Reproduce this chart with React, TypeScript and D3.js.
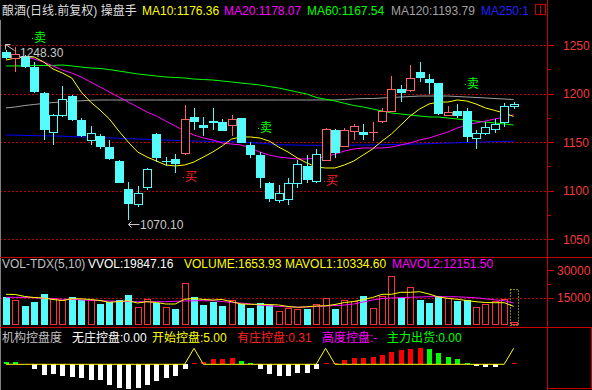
import React from "react";
import * as d3 from "d3";

// ---------------- DATA ----------------
const opens = [
  1242.8, 1235.9, 1238.7, 1227.6, 1200.8, 1159.0, 1176.8, 1197.4, 1172.7, 1151.3,
  1156.2, 1145.2, 1130.4, 1101.5, 1085.1, 1102.3, 1158.2, 1130.4, 1132.5, 1137.3,
  1176.1, 1167.5, 1171.6, 1170.3, 1166.8, 1174.4, 1146.9, 1136.6, 1108.0, 1089.5,
  1090.2, 1106.4, 1125.6, 1109.1, 1130.7, 1162.4, 1145.2, 1160.6, 1160.6, 1159.5,
  1171.0, 1181.2, 1204.6, 1202.9, 1221.9, 1214.9, 1210.5, 1177.1, 1182.0, 1182.0,
  1153.1, 1158.2, 1162.4, 1169.9, 1186.4,
];
const highs = [
  1244.5, 1248.3, 1240.0, 1232.8, 1201.5, 1178.5, 1207.7, 1198.0, 1174.5, 1166.5,
  1158.0, 1152.1, 1131.0, 1109.1, 1104.6, 1123.0, 1159.0, 1135.0, 1137.6, 1188.1,
  1184.7, 1176.1, 1184.7, 1174.0, 1177.8, 1175.0, 1150.3, 1140.0, 1109.0, 1105.7,
  1112.6, 1131.0, 1136.6, 1142.5, 1164.1, 1163.0, 1164.1, 1168.3, 1168.3, 1170.3,
  1184.7, 1218.0, 1208.8, 1229.4, 1232.2, 1219.9, 1211.0, 1187.1, 1188.9, 1184.7,
  1162.4, 1171.0, 1173.4, 1189.9, 1190.9,
];
const lows = [
  1235.5, 1222.5, 1226.0, 1200.8, 1152.0, 1147.0, 1175.8, 1172.0, 1155.5, 1147.0,
  1143.0, 1131.4, 1107.5, 1070.1, 1083.3, 1101.0, 1129.7, 1125.0, 1117.7, 1136.5,
  1162.4, 1156.2, 1162.4, 1161.0, 1156.5, 1149.0, 1133.5, 1102.9, 1088.0, 1086.8,
  1085.1, 1102.3, 1107.5, 1108.0, 1130.0, 1133.2, 1144.5, 1152.0, 1152.0, 1151.0,
  1170.0, 1180.5, 1191.5, 1202.0, 1212.2, 1199.2, 1178.0, 1176.5, 1174.4, 1150.3,
  1142.5, 1157.0, 1159.0, 1165.8, 1184.0,
];
const closes = [
  1236.6, 1240.7, 1227.6, 1201.9, 1162.4, 1177.8, 1194.3, 1172.7, 1156.2, 1159.0,
  1145.2, 1132.2, 1108.0, 1086.1, 1097.1, 1122.2, 1133.2, 1130.6, 1127.3, 1173.7,
  1171.0, 1164.7, 1169.9, 1161.6, 1173.7, 1149.3, 1136.6, 1113.2, 1091.2, 1097.1,
  1107.4, 1127.0, 1110.8, 1137.3, 1163.1, 1139.0, 1162.4, 1166.5, 1157.2, 1160.2,
  1182.0, 1204.3, 1200.8, 1215.7, 1216.3, 1211.1, 1178.6, 1180.6, 1177.1, 1155.5,
  1159.6, 1165.2, 1168.3, 1187.1, 1189.2,
];
// 操盘手 trend state (1 = strong / red rising candle)
const strong = [
  0, 1, 0, 0, 0, 0, 0, 0, 0, 0,
  0, 0, 0, 0, 0, 0, 0, 0, 0, 1,
  0, 0, 0, 0, 1, 0, 0, 0, 0, 0,
  0, 0, 0, 0, 1, 0, 1, 1, 0, 1,
  1, 1, 0, 1, 0, 0, 0, 1, 0, 0,
  0, 0, 0, 0, 0,
];
const ma10 = [
  1234.5, 1236.6, 1237.6, 1237.6, 1232.5, 1225.3, 1221.1, 1216.0, 1201.5, 1191.2,
  1183.0, 1173.7, 1161.3, 1150.0, 1139.7, 1134.5, 1130.4, 1126.3, 1125.3, 1126.3,
  1129.4, 1134.5, 1139.7, 1145.9, 1153.1, 1155.2, 1155.2, 1154.1, 1151.0, 1144.8,
  1139.7, 1133.5, 1128.4, 1124.2, 1123.2, 1123.2, 1126.3, 1130.4, 1136.6, 1142.8,
  1151.0, 1158.2, 1167.5, 1176.8, 1184.0, 1189.2, 1191.2, 1191.2, 1193.3, 1192.3,
  1189.2, 1185.1, 1182.5, 1179.9, 1176.36,
];
const ma20 = [
  1239.7, 1238.7, 1237.6, 1235.6, 1232.5, 1228.4, 1224.2, 1221.1, 1217.0, 1211.9,
  1206.7, 1201.5, 1196.4, 1191.2, 1186.1, 1180.9, 1176.8, 1171.6, 1166.5, 1161.3,
  1157.2, 1154.1, 1152.1, 1149.0, 1147.9, 1146.9, 1143.8, 1139.7, 1136.6, 1134.5,
  1133.5, 1132.5, 1132.5, 1133.5, 1134.5, 1137.6, 1140.7, 1142.8, 1143.8, 1143.8,
  1143.8, 1144.8, 1146.9, 1149.0, 1152.1, 1154.1, 1157.2, 1160.3, 1164.4, 1167.5,
  1169.6, 1171.6, 1173.7, 1175.8, 1178.07,
];
const ma60 = [
  1228.4, 1228.4, 1228.4, 1228.9, 1228.9, 1228.9, 1229.4, 1228.4, 1227.3, 1226.3,
  1225.8, 1224.7, 1223.2, 1221.7, 1220.1, 1219.1, 1218.0, 1217.0, 1216.5, 1216.0,
  1214.9, 1214.4, 1213.9, 1212.9, 1211.9, 1210.8, 1209.8, 1208.8, 1207.2, 1205.7,
  1203.6, 1201.5, 1199.5, 1195.9, 1194.1, 1192.3, 1189.9, 1187.6, 1186.1, 1184.0,
  1182.0, 1179.9, 1178.9, 1177.8, 1176.8, 1175.8, 1175.8, 1174.7, 1173.7, 1172.7,
  1171.6, 1170.6, 1169.6, 1168.6, 1167.54,
];
const ma120 = [
  1185.1, 1186.1, 1187.6, 1188.7, 1189.7, 1190.7, 1191.4, 1192.0, 1192.5, 1193.0,
  1193.3, 1193.3, 1193.3, 1193.3, 1193.3, 1193.3, 1193.3, 1193.3, 1193.3, 1193.3,
  1193.3, 1193.3, 1193.3, 1193.3, 1193.3, 1193.3, 1193.3, 1193.3, 1193.3, 1193.3,
  1193.3, 1193.3, 1193.3, 1193.3, 1193.3, 1193.3, 1193.8, 1194.3, 1194.8, 1194.8,
  1195.4, 1195.9, 1196.4, 1196.9, 1197.4, 1197.4, 1197.4, 1197.4, 1196.9, 1196.4,
  1195.9, 1195.4, 1194.8, 1194.3, 1193.79,
];
const ma250 = [
  1157.2, 1157.0, 1156.8, 1156.6, 1156.4, 1156.2, 1156.0, 1155.6, 1155.2, 1154.9,
  1154.6, 1154.2, 1153.8, 1153.4, 1153.1, 1152.7, 1152.4, 1152.0, 1151.7, 1151.3,
  1151.0, 1150.8, 1150.6, 1150.4, 1150.2, 1150.0, 1149.4, 1148.8, 1148.0, 1147.2,
  1147.0, 1146.8, 1146.7, 1146.6, 1146.6, 1146.6, 1146.7, 1146.8, 1146.9, 1147.0,
  1147.2, 1147.4, 1147.6, 1147.8, 1148.0, 1148.3, 1148.6, 1148.9, 1149.2, 1149.5,
  1149.8, 1150.1, 1150.3, 1150.6, 1150.8,
];
const volumes = [
  15160, 13900, 10290, 12450, 17150, 14800, 13900, 15160, 13540, 13900,
  11730, 12450, 13900, 16600, 9930, 14440, 12270, 9750, 9030, 22900,
  15160, 11190, 12450, 10290, 13540, 11730, 9390, 12090, 11190, 7940,
  9390, 9030, 8840, 11550, 14800, 9030, 13900, 13000, 16060, 9390,
  16060, 26900, 14800, 20760, 13900, 12090, 15700, 14800, 13000, 13540,
  9930, 11550, 13000, 14260, 1653.93,
];
const mavol1 = [
  16840, 16730, 15650, 15110, 14840, 14020, 13480, 14400, 14400, 14020,
  13480, 12510, 12940, 13320, 12130, 12830, 12400, 11590, 11590, 14130,
  14570, 14020, 13750, 14020, 12830, 11590, 11430, 11430, 11320, 11050,
  10240, 9800, 10070, 10510, 10610, 11320, 12400, 12940, 14020, 15110,
  16840, 16840, 17920, 17920, 18250, 17000, 15380, 14670, 14130, 13480,
  12830, 12400, 12290, 12290, 10334.6,
];
const mavol2 = [
  15220, 15220, 15110, 14950, 14670, 14400, 14190, 14130, 13860, 13590,
  13380, 13210, 13050, 12940, 12830, 12830, 12830, 12830, 13050, 13210,
  13320, 13380, 13380, 12940, 12400, 12130, 11590, 11050, 10610, 10240,
  10070, 9860, 9960, 10240, 10510, 10780, 11050, 11590, 12670, 13750,
  14570, 14840, 15000, 15220, 15380, 15540, 15540, 15540, 15490, 15220,
  14950, 14400, 13860, 13380, 12151.5,
];
const vvol = 19847.16;

// 机构控盘度
const wuzhuang = [
  0, 0, 0, -1.45, -3.35, -3.1, -3.55, -3.85, -4.4, -4.9,
  -4.9, -6.45, -7.3, -7.7, -7.3, -6.55, -5.2, -4.15, -3.55, -1.45,
  0, 0, 0, 0, 0, 0, 0, -1.45, -3.1, -3.55,
  -3.55, -2.7, -2.6, -1.55, 0, 0, 0, 0, 0, 0,
  0, 0, 0, 0, 0, 0, 0, 0, 0, 0,
  -0.4, -0.7, -0.7, 0, 0,
];
const kaishi = [
  0, 0, 0, 0, 0, 0, 0, 0, 0, 0,
  0, 0, 0, 0, 0, 0, 0, 0, 0, 0,
  5, 0, 0, 0, 0, 0, 0, 0, 0, 0,
  0, 0, 0, 0, 5, 0, 0, 0, 0, 0,
  0, 0, 0, 0, 0, 0, 0, 0, 0, 0,
  0, 0, 0, 0, 5,
];
const youzhuang = [
  0, 0, 0, 0, 0, 0, 0, 0, 0, 0,
  0, 0, 0, 0, 0, 0, 0, 0, 0, 0,
  0.3, 0.85, 1.55, 1.55, 1.9, 0, 0, 0, 0, 0,
  0, 0, 0, 0, 0.3, 0.55, 1.35, 2.1, 2.1, 2.4,
  2.9, 4.0, 4.5, 4.8, 5.2, 0, 0, 0, 0, 0,
  0, 0, 0, 0, 0.31,
];
const chuhuo = [
  0.85, 0.85, 0, 0, 0, 0, 0, 0, 0, 0,
  0, 0, 0, 0, 0, 0, 0, 0, 0, 0,
  0, 0, 0, 0, 0, 1.15, 0.55, 0, 0, 0,
  0, 0, 0, 0, 0, 0, 0, 0, 0, 0,
  0, 0, 0, 0, 0, 4.8, 3.65, 2.4, 1.8, 0.4,
  0, 0, 0, 0, 0,
];

const sellIdx = [3, 27, 49];
const sellPrice = [1257.7, 1164.4, 1209.3];
const buyIdx = [19, 34];
const buyPrice = [1114.4, 1109.3];

const priceTicks = [1050, 1100, 1150, 1200, 1250];
const priceMinor = [1075, 1125, 1175, 1225];
const volTicks = [15000, 30000];
const volMinor = [22500];

// ---------------- STYLE ----------------
const FONT = "'Liberation Sans','Noto Sans CJK SC',sans-serif";
const CYAN = "#54fcfc";
const UPRED = "#ff6464";
const VRED = "#ff3232";
const FRAME = "#c80000";
const GRID = "#c00000";
const TICKTXT = "#f03c3c";

export default function App() {
  const N = closes.length;
  const x = d3.scaleLinear().domain([0, N - 1]).range([6, 513.6]);
  const yP = d3.scaleLinear().domain([1050, 1250]).range([239, 45]);
  const yV = d3.scaleLinear().domain([0, 30000]).range([325.4, 270]);
  const yI = d3.scaleLinear().domain([0, 5]).range([364.3, 348.3]);
  const cxs = closes.map((_, i) => Math.round(x(i)));

  const pLine = d3.line<number>().x((_, i) => x(i)).y((d) => yP(d));
  const vLine = d3.line<number>().x((_, i) => x(i)).y((d) => yV(d));
  const iLine = d3.line<number>().x((_, i) => x(i)).y((d) => yI(d));

  const last = N - 1;
  const hiIdx = d3.maxIndex(highs);
  const loIdx = d3.minIndex(lows);
  const i0 = Math.round(yI(0));

  const txt = (s: string, xx: number, yy: number, fill: string, extra: any = {}) => (
    <text x={xx} y={yy} fill={fill} fontSize={12} fontFamily={FONT} {...extra}>
      {s}
    </text>
  );

  return (
    <svg
      width={592}
      height={390}
      style={{ position: "absolute", left: 0, top: 0, display: "block", background: "#000" }}
    >
      <defs>
        <clipPath id="mainClip">
          <rect x={0} y={20} width={547} height={237} />
        </clipPath>
        <clipPath id="titleClip">
          <rect x={0} y={0} width={528} height={20} />
        </clipPath>
      </defs>
      <rect x={0} y={0} width={592} height={390} fill="#000" />

      {/* grid */}
      {priceTicks.map((t) => (
        <line key={"g" + t} x1={0} x2={546} y1={Math.round(yP(t)) + 0.5} y2={Math.round(yP(t)) + 0.5}
          stroke={GRID} strokeDasharray="2,2" />
      ))}
      <line x1={0} x2={546} y1={Math.round(yV(15000)) + 0.5} y2={Math.round(yV(15000)) + 0.5}
        stroke={GRID} strokeDasharray="2,2" />

      {/* frames */}
      <line x1={0.5} x2={0.5} y1={20} y2={390} stroke="#808080" />
      <line x1={547.5} x2={547.5} y1={0} y2={390} stroke={FRAME} />
      <line x1={0} x2={592} y1={257.5} y2={257.5} stroke={FRAME} />
      <line x1={0} x2={592} y1={327.5} y2={327.5} stroke={FRAME} />
      <rect x={547.5} y={327.5} width={44} height={61} fill="none" stroke={FRAME} />

      {/* axis ticks */}
      {priceTicks.map((t) => (
        <g key={"pt" + t}>
          <line x1={548} x2={554} y1={Math.round(yP(t)) + 0.5} y2={Math.round(yP(t)) + 0.5} stroke={FRAME} />
          {txt(String(t), 563, yP(t) + 4.5, TICKTXT)}
        </g>
      ))}
      {priceMinor.map((t) => (
        <line key={"pm" + t} x1={548} x2={551} y1={Math.round(yP(t)) + 0.5} y2={Math.round(yP(t)) + 0.5} stroke={FRAME} />
      ))}
      {volTicks.map((t) => (
        <g key={"vt" + t}>
          <line x1={548} x2={554} y1={Math.round(yV(t)) + 0.5} y2={Math.round(yV(t)) + 0.5} stroke={FRAME} />
          {txt(String(t), 557, yV(t) + 4.5, TICKTXT)}
        </g>
      ))}
      {volMinor.map((t) => (
        <line key={"vm" + t} x1={548} x2={551} y1={Math.round(yV(t)) + 0.5} y2={Math.round(yV(t)) + 0.5} stroke={FRAME} />
      ))}

      {/* main panel */}
      <g clipPath="url(#mainClip)" fill="none" strokeWidth={1}>
        <path d={pLine(ma250) || ""} stroke="#0000ff" />
        <path d={pLine(ma120) || ""} stroke="#a0a0a0" />
        <path d={pLine(ma60) || ""} stroke="#00ff00" />
        <path d={pLine(ma20) || ""} stroke="#ff00ff" />
        <path d={pLine(ma10) || ""} stroke="#ffff00" />
      </g>
      <g clipPath="url(#mainClip)">
        {closes.map((c, i) => {
          const o = opens[i];
          const up = c >= o;
          const col = up && strong[i] ? UPRED : CYAN;
          const cx = cxs[i];
          const wx = cx + 0.5;
          const top = Math.round(yP(Math.max(o, c)));
          const bot = Math.round(yP(Math.min(o, c)));
          const yh = Math.round(yP(highs[i]));
          const yl = Math.round(yP(lows[i]));
          if (bot - top < 2) {
            return (
              <g key={i}>
                <line x1={wx} x2={wx} y1={yh} y2={yl} stroke={col} />
                <line x1={cx - 4} x2={cx + 5} y1={top + 0.5} y2={top + 0.5} stroke={col} />
              </g>
            );
          }
          if (up) {
            return (
              <g key={i}>
                <line x1={wx} x2={wx} y1={yh} y2={top} stroke={col} />
                <line x1={wx} x2={wx} y1={bot} y2={yl} stroke={col} />
                <rect x={cx - 3.5} y={top + 0.5} width={8} height={bot - top - 1} fill="#000" stroke={col} />
              </g>
            );
          }
          return (
            <g key={i}>
              <line x1={wx} x2={wx} y1={yh} y2={yl} stroke={col} />
              <rect x={cx - 4} y={top} width={9} height={bot - top} fill={col} />
            </g>
          );
        })}
      </g>

      {/* high / low markers */}
      <g stroke="#c8c8c8" fill="none">
        <path d={`M${cxs[hiIdx] - 9.5},${Math.round(yP(highs[hiIdx])) - 2.5} v5 M${cxs[hiIdx] - 9.5},${Math.round(yP(highs[hiIdx])) - 2.5} h5 M${cxs[hiIdx] - 9.5},${Math.round(yP(highs[hiIdx])) - 2.5} l9,6`} />
        <path d={`M${cxs[loIdx] + 0.5},${Math.round(yP(lows[loIdx])) + 4.5} h11 M${cxs[loIdx] + 0.5},${Math.round(yP(lows[loIdx])) + 4.5} l3,-3 M${cxs[loIdx] + 0.5},${Math.round(yP(lows[loIdx])) + 4.5} l3,3`} />
      </g>
      {txt(highs[hiIdx].toFixed(2), cxs[hiIdx] + 5, yP(highs[hiIdx]) + 10, "#c8c8c8")}
      {txt(lows[loIdx].toFixed(2), cxs[loIdx] + 12, yP(lows[loIdx]) + 9, "#c8c8c8")}

      {/* signals */}
      {sellIdx.map((si, k) => (
        <g key={"s" + k}>
          <rect x={cxs[si] - 2} y={Math.round(yP(sellPrice[k]))} width={1} height={1} fill="#00ff00" />
          <text x={cxs[si] + 6} y={yP(sellPrice[k])} fill="#00ff00" fontSize={12} fontFamily={FONT}
            textAnchor="middle" dominantBaseline="central">卖</text>
        </g>
      ))}
      {buyIdx.map((bi, k) => (
        <g key={"b" + k}>
          <rect x={cxs[bi] - 2} y={Math.round(yP(buyPrice[k]))} width={1} height={1} fill="#ff2020" />
          <text x={cxs[bi] + 6} y={yP(buyPrice[k])} fill="#ff2020" fontSize={12} fontFamily={FONT}
            textAnchor="middle" dominantBaseline="central">买</text>
        </g>
      ))}

      {/* title row */}
      <g clipPath="url(#titleClip)">
        {txt("酿酒(日线.前复权) 操盘手", 2, 15, "#dcdcdc")}
        {txt(`MA10:${ma10[last].toFixed(2)}`, 142, 15, "#ffff00")}
        {txt(`MA20:${ma20[last].toFixed(2)}`, 224, 15, "#ff00ff")}
        {txt(`MA60:${ma60[last].toFixed(2)}`, 307, 15, "#00ff00")}
        {txt(`MA120:${ma120[last].toFixed(2)}`, 391, 15, "#a0a0a0")}
        {txt(`MA250:${ma250[last].toFixed(2)}`, 481, 15, "#2020ff")}
      </g>
      <rect x={535.5} y={4.5} width={10} height={10} fill="none" stroke={FRAME} />
      <line x1={540.5} x2={540.5} y1={4.5} y2={14.5} stroke={FRAME} />

      {/* volume panel */}
      {volumes.map((v, i) => {
        const up = closes[i] >= opens[i];
        const cx = cxs[i];
        const top = Math.round(yV(v));
        const bot = Math.round(yV(0));
        return up ? (
          <rect key={"v" + i} x={cx - 2.5} y={top + 0.5} width={6} height={Math.max(bot - top - 1, 1)}
            fill="none" stroke={VRED} />
        ) : (
          <rect key={"v" + i} x={cx - 3} y={top} width={7} height={bot - top} fill={CYAN} />
        );
      })}
      <rect x={cxs[last] - 3.5} y={Math.round(yV(vvol)) + 0.5} width={8} height={Math.round(yV(0)) - Math.round(yV(vvol))}
        fill="none" stroke="#ffff00" strokeDasharray="1,2" />
      <path d={vLine(mavol2) || ""} fill="none" stroke="#ff00ff" />
      <path d={vLine(mavol1) || ""} fill="none" stroke="#ffff00" />
      {txt("VOL-TDX(5,10)", 2, 268, "#c0c0c0")}
      {txt(`VVOL:${vvol.toFixed(2)}`, 88, 268, "#ffffff")}
      {txt(`VOLUME:${volumes[last].toFixed(2)}`, 184, 268, "#ffff00")}
      {txt(`MAVOL1:${mavol1[last].toFixed(2)}`, 285, 268, "#ffff00")}
      {txt(`MAVOL2:${mavol2[last].toFixed(2)}`, 392, 268, "#ff00ff")}

      {/* indicator panel */}
      {wuzhuang.map((v, i) =>
        v < 0 ? (
          <rect key={"w" + i} x={cxs[i] - 2} y={i0} width={5} height={Math.max(1, Math.round(yI(v)) - i0)} fill="#ffffff" />
        ) : null
      )}
      {youzhuang.map((v, i) =>
        v > 0 ? (
          <rect key={"r" + i} x={cxs[i] - 2} y={Math.min(i0 - 1, Math.round(yI(v)))} width={5}
            height={Math.max(1, i0 - Math.round(yI(v)))} fill="#ff0000" />
        ) : null
      )}
      {chuhuo.map((v, i) =>
        v > 0 ? (
          <rect key={"c" + i} x={cxs[i] - 2} y={Math.min(i0 - 1, Math.round(yI(v)))} width={5}
            height={Math.max(1, i0 - Math.round(yI(v)))} fill="#00ff00" />
        ) : null
      )}
      <path d={iLine(kaishi) || ""} fill="none" stroke="#ffff00" />
      {txt("机构控盘度", 2, 342, "#c0c0c0")}
      {txt(`无庄控盘:${Math.abs(wuzhuang[last]).toFixed(2)}`, 72, 342, "#ffffff")}
      {txt(`开始控盘:${kaishi[last].toFixed(2)}`, 152, 342, "#ffff00")}
      {txt(`有庄控盘:${youzhuang[last].toFixed(2)}`, 237, 342, "#ff2020")}
      {txt("高度控盘:-", 322, 342, "#ff00ff")}
      {txt(`主力出货:${chuhuo[last].toFixed(2)}`, 387, 342, "#00ff00")}
    </svg>
  );
}
